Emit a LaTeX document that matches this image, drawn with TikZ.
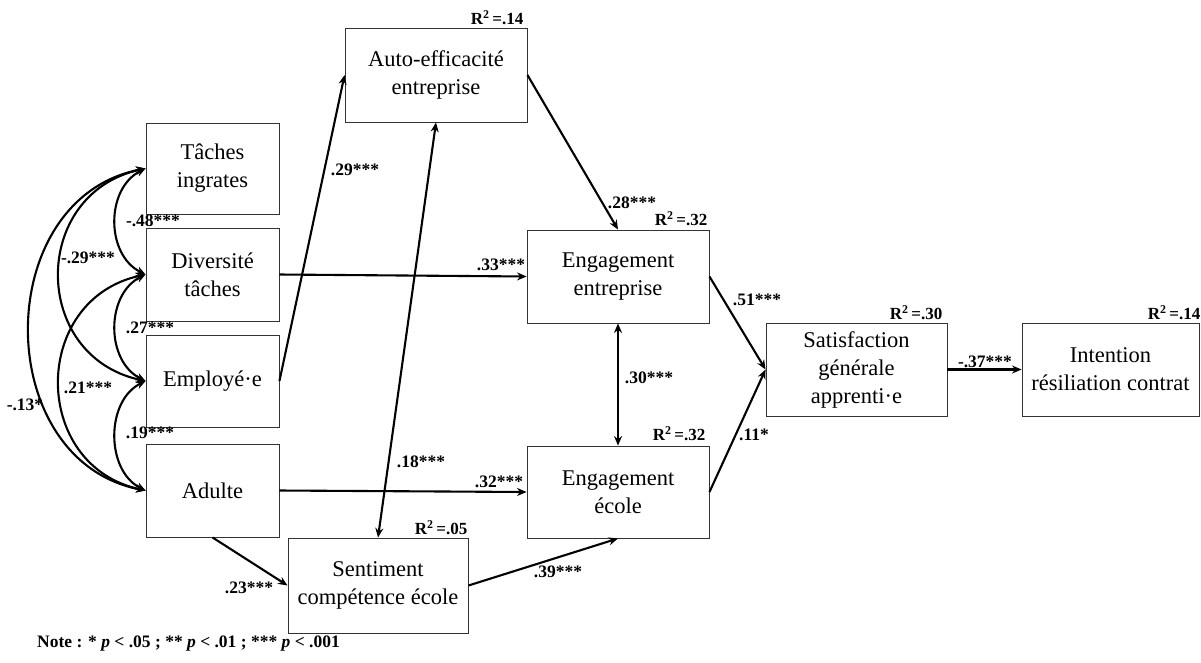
\documentclass[tikz,border=0pt]{standalone}
\usepackage{fontspec}
\setmainfont{Liberation Serif}
\usetikzlibrary{arrows.meta,calc}
\begin{document}
\begin{tikzpicture}[x=1pt,y=-1pt,
  box/.style={draw=black!80, line width=0.9pt, align=center, inner sep=0pt,
    font=\fontsize{22.5}{28}\selectfont},
  tip/.tip={Stealth[length=9.5pt,width=8pt]},
  path/.style={line width=2.1pt, -tip},
  both/.style={line width=2.1pt, tip-tip},
  coef/.style={font=\fontsize{17.5}{20}\selectfont\bfseries, inner sep=0pt},
  rsq/.style={font=\fontsize{17}{20}\selectfont\bfseries, inner sep=0pt, anchor=base east}]
\useasboundingbox (0,0) rectangle (1201,662);

% variables
\node[box, minimum width=133pt, minimum height=91pt] (taches) at (212.5,168.5) {Tâches\\ingrates};
\node[box, minimum width=133pt, minimum height=93pt] (div) at (212.5,274.5) {Diversité\\tâches};
\node[box, minimum width=133pt, minimum height=92pt] (emp) at (212.5,381) {Employé·e};
\node[box, minimum width=133pt, minimum height=93pt] (adu) at (212.5,490.5) {Adulte};
\node[box, minimum width=182pt, minimum height=94pt] (auto) at (436,75) {Auto-efficacité\\entreprise};
\node[box, minimum width=182pt, minimum height=93pt] (engent) at (618,276.5) {Engagement\\entreprise};
\node[box, minimum width=182pt, minimum height=92pt] (engec) at (618,492) {Engagement\\école};
\node[box, minimum width=181pt, minimum height=93pt] (sat) at (856.5,369.5) {Satisfaction\\générale\\apprenti·e};
\node[box, minimum width=177pt, minimum height=93pt] (int) at (1110.5,369.5) {Intention\\résiliation contrat};
\node[box, minimum width=180pt, minimum height=95pt] (sent) at (378,585.5) {Sentiment\\compétence école};

% explained variance
\node[rsq] (r2auto) at ($(auto.north east)+(-4,-3)$) {R\textsuperscript{2}\,=.14};
\node[rsq] (r2engent) at ($(engent.north east)+(-2,-4)$) {R\textsuperscript{2}\,=.32};
\node[rsq] (r2engec) at ($(engec.north east)+(-4,-5)$) {R\textsuperscript{2}\,=.32};
\node[rsq] (r2sat) at ($(sat.north east)+(-5,-3)$) {R\textsuperscript{2}\,=.30};
\node[rsq] (r2int) at ($(int.north east)+(1,-3)$) {R\textsuperscript{2}\,=.14};
\node[rsq] (r2sent) at ($(sent.north east)+(-1,-3)$) {R\textsuperscript{2}\,=.05};

% covariances among predictors
\draw[both] (taches.west) .. controls +(-40,20) and +(-40,-20) .. (div.west);
\draw[both] (div.west) .. controls +(-40,20) and +(-40,-20) .. (emp.west);
\draw[both] (emp.west) .. controls +(-40,20) and +(-40,-20) .. (adu.west);
\draw[both] (taches.west) .. controls +(-115,25) and +(-115,-25) .. (emp.west);
\draw[both] (div.west) .. controls +(-115,25) and +(-115,-25) .. (adu.west);
\draw[both] (taches.west) .. controls +(-155,30) and +(-155,-30) .. (adu.west);

\node[coef] (c48) at (153,221) {-.48***};
\node[coef] (c27) at (150,328) {.27***};
\node[coef] (c19) at (150,433) {.19***};
\node[coef] (c29) at (88,258) {-.29***};
\node[coef] (c21) at (88,388) {.21***};
\node[coef] (c13) at (25,405) {-.13*};

% structural paths
\draw[path] (emp.east) -- (auto.west);
\draw[both] (sent.north) -- (auto.south);
\draw[path] (auto.east) -- (engent.north);
\draw[path] (div.east) -- (engent.west);
\draw[path] (adu.east) -- (engec.west);
\draw[path] (adu.south) -- (sent.west);
\draw[path] (sent.east) -- (engec.south);
\draw[both] (engent.south) -- (engec.north);
\draw[path] (engent.east) -- (sat.west);
\draw[path] (engec.east) -- (sat.west);
\draw[path] (sat.east) -- (int.west);

\node[coef] (c29b) at (355,170) {.29***};
\node[coef] (c18) at (421,462) {.18***};
\node[coef] (c28) at (632,203) {.28***};
\node[coef] (c33) at (501,265) {.33***};
\node[coef] (c32) at (499,482) {.32***};
\node[coef] (c51) at (757,300) {.51***};
\node[coef] (c30) at (649,378) {.30***};
\node[coef] (c11) at (754,435) {.11*};
\node[coef] (c23) at (249,588) {.23***};
\node[coef] (c39) at (558,572) {.39***};
\node[coef] (c37) at (985,362) {-.37***};

\node[font=\fontsize{17.5}{20}\selectfont\bfseries, inner sep=0pt, anchor=west] (note) at (37,644)
  {Note : * \textit{p} < .05 ; ** \textit{p} < .01 ; *** \textit{p} < .001};
\end{tikzpicture}
\end{document}
